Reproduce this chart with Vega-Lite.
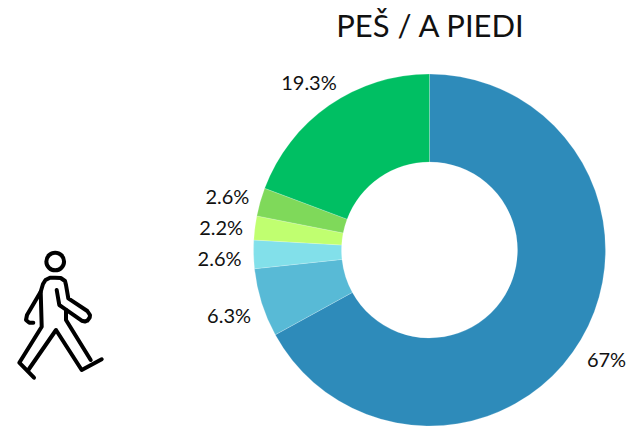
{
"$schema":"https://vega.github.io/schema/vega-lite/v6.json",
"width":627,"height":431,"padding":0,"autosize":{"type":"none"},
"background":"white","view":{"stroke":null},
"datasets":{
"slices":[
{"k":1,"value":67,"label":"67%"},
{"k":2,"value":6.3,"label":"6.3%"},
{"k":3,"value":2.6,"label":"2.6%"},
{"k":4,"value":2.2,"label":"2.2%"},
{"k":5,"value":2.6,"label":"2.6%"},
{"k":6,"value":19.3,"label":"19.3%"}
],
"walker":[
{"p":"a","o":1,"x":56.7,"y":290},{"p":"a","o":2,"x":59.3,"y":305},{"p":"a","o":3,"x":62.7,"y":307.3},{"p":"a","o":4,"x":81.7,"y":320.7},{"p":"a","o":5,"x":85,"y":321.5},{"p":"a","o":6,"x":87.3,"y":320.7},{"p":"a","o":7,"x":89.7,"y":317.5},{"p":"a","o":8,"x":90,"y":315},{"p":"a","o":9,"x":87.3,"y":311},{"p":"a","o":10,"x":68.3,"y":298.3},{"p":"a","o":11,"x":66,"y":285},{"p":"a","o":12,"x":65,"y":281},{"p":"a","o":13,"x":60.7,"y":278},{"p":"a","o":14,"x":55,"y":277.7},{"p":"a","o":15,"x":50,"y":277.7},{"p":"a","o":16,"x":45.5,"y":280},{"p":"a","o":17,"x":43,"y":284},{"p":"a","o":18,"x":40.7,"y":291.7},{"p":"a","o":19,"x":27,"y":315},{"p":"a","o":20,"x":26,"y":320},{"p":"a","o":21,"x":29.3,"y":322.7},{"p":"a","o":22,"x":33.3,"y":322.7},
{"p":"b","o":1,"x":40.7,"y":291.7},{"p":"b","o":2,"x":41.7,"y":326.7},{"p":"b","o":3,"x":19.3,"y":362.7},{"p":"b","o":4,"x":34,"y":377.7},
{"p":"c","o":1,"x":28.3,"y":370},{"p":"c","o":2,"x":56,"y":330},{"p":"c","o":3,"x":81.7,"y":370},{"p":"c","o":4,"x":101.7,"y":359.3},
{"p":"d","o":1,"x":66,"y":310},{"p":"d","o":2,"x":66,"y":320},{"p":"d","o":3,"x":90.7,"y":360}
],
"head":[{"x":55.2,"y":261.5}]
},
"layer":[
{"data":{"name":"slices"},
 "mark":{"type":"arc","innerRadius":88,"outerRadius":176,"stroke":"white","strokeWidth":0.2},
 "encoding":{
  "x":{"datum":429.5,"type":"quantitative","scale":{"domain":[0,627],"nice":false,"zero":false},"axis":null},
  "y":{"datum":250,"type":"quantitative","scale":{"domain":[431,0],"nice":false,"zero":false},"axis":null},
  "theta":{"field":"value","type":"quantitative","stack":true,"scale":{"domain":[0,100],"range":[0,6.2832]}},
  "order":{"field":"k","type":"ordinal"},
  "color":{"field":"k","type":"ordinal","legend":null,"scale":{"domain":[1,2,3,4,5,6],"range":["#2E8BBA","#58BAD6","#82E0EA","#C0FF70","#7FD95A","#00BF63"]}}
 }},
{"data":{"name":"slices"},
 "mark":{"type":"text","radius":208,"dy":5,"dx":-2,"font":"Lato","fontSize":20,"color":"#111111"},
 "encoding":{
  "x":{"datum":429.5,"type":"quantitative","scale":{"domain":[0,627],"nice":false,"zero":false},"axis":null},
  "y":{"datum":250,"type":"quantitative","scale":{"domain":[431,0],"nice":false,"zero":false},"axis":null},
  "theta":{"field":"value","type":"quantitative","stack":true},
  "order":{"field":"k","type":"ordinal"},
  "text":{"field":"label","type":"nominal"}
 }},
{"data":{"values":[{"t":"PEŠ / A PIEDI"}]},
 "mark":{"type":"text","font":"Lato","fontSize":31,"color":"#111111"},
 "encoding":{
  "x":{"datum":430,"type":"quantitative","scale":{"domain":[0,627],"nice":false,"zero":false},"axis":null},
  "y":{"datum":27.5,"type":"quantitative","scale":{"domain":[431,0],"nice":false,"zero":false},"axis":null},
  "text":{"field":"t","type":"nominal"}
 }},
{"data":{"name":"walker"},
 "mark":{"type":"line","stroke":"#000000","strokeWidth":4,"strokeJoin":"round","strokeCap":"round"},
 "encoding":{
  "x":{"field":"x","type":"quantitative","scale":{"domain":[0,627],"nice":false,"zero":false},"axis":null},
  "y":{"field":"y","type":"quantitative","scale":{"domain":[431,0],"nice":false,"zero":false},"axis":null},
  "detail":{"field":"p","type":"nominal"},
  "order":{"field":"o","type":"quantitative"}
 }},
{"data":{"name":"head"},
 "mark":{"type":"point","shape":"circle","filled":false,"size":314,"stroke":"#000000","strokeWidth":4,"opacity":1},
 "encoding":{
  "x":{"field":"x","type":"quantitative","scale":{"domain":[0,627],"nice":false,"zero":false},"axis":null},
  "y":{"field":"y","type":"quantitative","scale":{"domain":[431,0],"nice":false,"zero":false},"axis":null}
 }}
]
}
